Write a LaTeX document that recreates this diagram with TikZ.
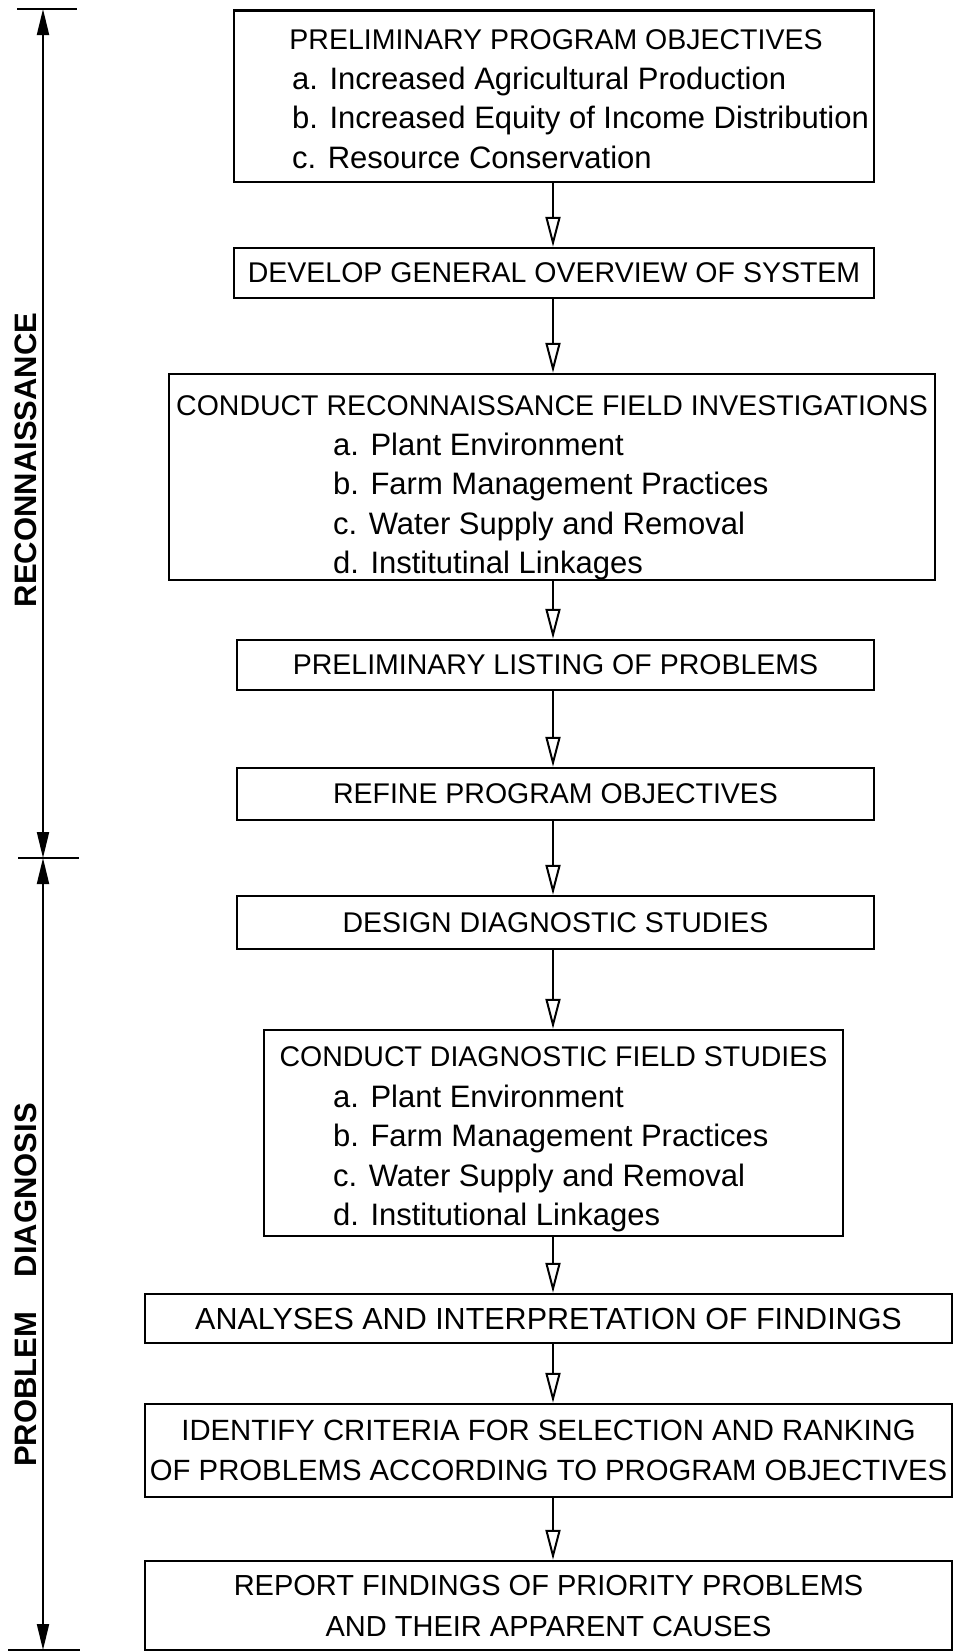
\documentclass[tikz,border=0pt]{standalone}
\usepackage{fontspec}
\setmainfont{Liberation Sans}
\usetikzlibrary{arrows.meta}

\begin{document}
\begin{tikzpicture}[
x=1pt, y=-1pt,
box/.style={rectangle, draw, line width=2.4pt, inner sep=0pt, align=center, font=\fontsize{28.5}{40}\selectfont},
head/.style={font=\fontsize{28.5}{39.5}\selectfont, inner sep=0pt, anchor=base},
items/.style={font=\fontsize{31}{39.5}\selectfont, inner sep=0pt, align=left, anchor=north west},
phase/.style={font=\fontsize{31}{31}\selectfont\bfseries, rotate=90, inner sep=0pt},
flow/.style={line width=1.3pt, -{Triangle[open, line width=2pt, length=30pt, width=15pt]}},
span/.style={line width=2pt, {Triangle[length=26pt, width=12pt]}-{Triangle[length=26pt, width=12pt]}},
bar/.style={line width=2.5pt},
]
\useasboundingbox (0,0) rectangle (955,1652);

% Phases listed on the side
\coordinate (rtop) at (43,9);
\coordinate (rmid) at (43,858);
\coordinate (rbot) at (43,1650);
\draw[bar] ([xshift=-26pt]rtop) -- ([xshift=34pt]rtop);
\draw[bar] ([xshift=-25pt]rmid) -- ([xshift=36pt]rmid);
\draw[bar] ([xshift=-35pt]rbot) -- ([xshift=37pt]rbot);
\draw[span] (rtop) -- (rmid);
\draw[span] (rmid) -- (rbot);
\node[phase] (recon) at (26,460) {RECONNAISSANCE};
\node[phase] (diag) at (26,1285) {PROBLEM~~~~DIAGNOSIS};

% Boxes of the procedure
\node[box, minimum width=640, minimum height=171.5] (objectives) at (554,96.25) {};
\node[head] (objtitle) at (556,49) {PRELIMINARY PROGRAM OBJECTIVES};
\node[items] (objlist) at (292,66.5) {a. Increased Agricultural Production\\
b. Increased Equity of Income Distribution\\
c. Resource Conservation};

\node[box, minimum width=640, minimum height=50] (overview) at (554,273) {DEVELOP GENERAL OVERVIEW OF SYSTEM};

\node[box, minimum width=766, minimum height=206] (recfield) at (552,477) {};
\node[head] (rectitle) at (552,415) {CONDUCT RECONNAISSANCE FIELD INVESTIGATIONS};
\node[items] (reclist) at (333,432.5) {a. Plant Environment\\
b. Farm Management Practices\\
c. Water Supply and Removal\\
d. Institutinal Linkages};

\node[box, minimum width=637, minimum height=50] (listing) at (555.5,665) {PRELIMINARY LISTING OF PROBLEMS};
\node[box, minimum width=637, minimum height=52] (refine) at (555.5,794) {REFINE PROGRAM OBJECTIVES};
\node[box, minimum width=637, minimum height=53] (design) at (555.5,922.5) {DESIGN DIAGNOSTIC STUDIES};

\node[box, minimum width=579, minimum height=206] (diagfield) at (553.5,1133) {};
\node[head] (diagtitle) at (553.5,1066) {CONDUCT DIAGNOSTIC FIELD STUDIES};
\node[items] (diaglist) at (333,1084.5) {a. Plant Environment\\
b. Farm Management Practices\\
c. Water Supply and Removal\\
d. Institutional Linkages};

\node[box, minimum width=807, minimum height=49, font=\fontsize{30.5}{40}\selectfont] (analyses) at (548.5,1318.5) {ANALYSES AND INTERPRETATION OF FINDINGS};
\node[box, minimum width=807, minimum height=93, font=\fontsize{29.3}{40}\selectfont] (criteria) at (548.5,1450.5) {IDENTIFY CRITERIA FOR SELECTION AND RANKING\\
OF PROBLEMS ACCORDING TO PROGRAM OBJECTIVES};
\node[box, minimum width=807, minimum height=89, font=\fontsize{29}{41}\selectfont] (report) at (548.5,1605.5) {REPORT FINDINGS OF PRIORITY PROBLEMS\\
AND THEIR APPARENT CAUSES};

% Arrows down the middle
\coordinate (spine) at (553,0);
\draw[flow] (objectives.south -| spine) -- (overview.north -| spine);
\draw[flow] (overview.south -| spine) -- (recfield.north -| spine);
\draw[flow] (recfield.south -| spine) -- (listing.north -| spine);
\draw[flow] (listing.south -| spine) -- (refine.north -| spine);
\draw[flow] (refine.south -| spine) -- (design.north -| spine);
\draw[flow] (design.south -| spine) -- (diagfield.north -| spine);
\draw[flow] (diagfield.south -| spine) -- (analyses.north -| spine);
\draw[flow] (analyses.south -| spine) -- (criteria.north -| spine);
\draw[flow] (criteria.south -| spine) -- (report.north -| spine);

\end{tikzpicture}
\end{document}
